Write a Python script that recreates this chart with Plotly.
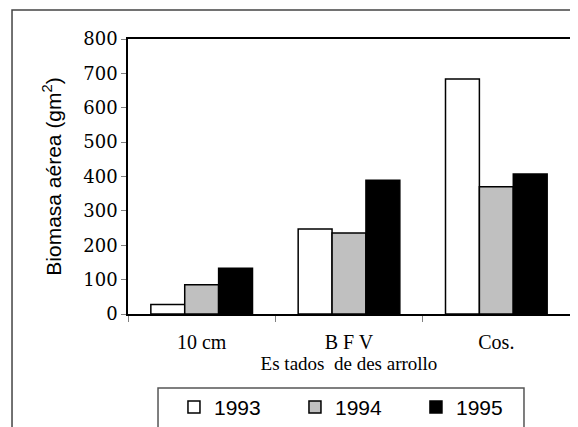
import plotly.graph_objects as go

estados = ["10 cm", "B F V", "Cos."]
años = ["1993", "1994", "1995"]
biomasa_1993 = [28, 247, 684]
biomasa_1994 = [85, 236, 370]
biomasa_1995 = [133, 389, 407]

colores = ["white", "#c0c0c0", "black"]

fig = go.Figure()
for año, valores, color in zip(años, [biomasa_1993, biomasa_1994, biomasa_1995], colores):
    fig.add_bar(x=estados, y=valores, name=año,
                marker=dict(color=color, line=dict(color="black", width=1.5)))

# the page body adds 8px, so margins are shifted by that much
fig.update_layout(
    width=578, height=427,
    margin=dict(l=120, r=16, t=31, b=121, autoexpand=False),
    plot_bgcolor="white", paper_bgcolor="white",
    barmode="group", bargap=0.31, bargroupgap=0,
    showlegend=True,
    legend=dict(orientation="h", x=0.104, xanchor="left", y=-0.265, yanchor="top",
                font=dict(family="Liberation Sans", size=21, color="black"),
                entrywidth=76, bgcolor="rgba(0,0,0,0)", borderwidth=0),
    shapes=[
        # marco exterior
        dict(type="rect", xref="paper", yref="paper", x0=-0.2624, x1=1.1, y0=-0.6, y1=1.1055,
             line=dict(color="#444444", width=1.5), layer="below"),
        # caja de la leyenda
        dict(type="rect", xref="paper", yref="paper", x0=0.0679, x1=0.8959, y0=-0.5, y1=-0.269,
             line=dict(color="#555555", width=1.5), layer="below"),
    ],
)

fig.update_yaxes(
    range=[0, 800], dtick=100, showgrid=False, zeroline=False,
    showline=True, linecolor="black", linewidth=1.5, mirror=True,
    ticks="outside", ticklen=5, tickcolor="#808080",
    tickfont=dict(family="DejaVu Serif", size=18, color="black"),
    title=dict(text="Biomasa aérea (gm<sup>2</sup>)", standoff=16,
               font=dict(family="Liberation Sans", size=21, color="black")),
)
fig.update_xaxes(
    showgrid=False, showline=True, linecolor="black", linewidth=1.5, mirror=True,
    ticks="outside", tickson="boundaries", ticklen=6, tickcolor="#808080",
    ticklabelstandoff=9,
    tickfont=dict(family="Liberation Serif", size=20, color="black"),
    title=dict(text="Es tados  de des arrollo", standoff=4,
               font=dict(family="Liberation Serif", size=19, color="black")),
)

fig.write_html("out.html")
